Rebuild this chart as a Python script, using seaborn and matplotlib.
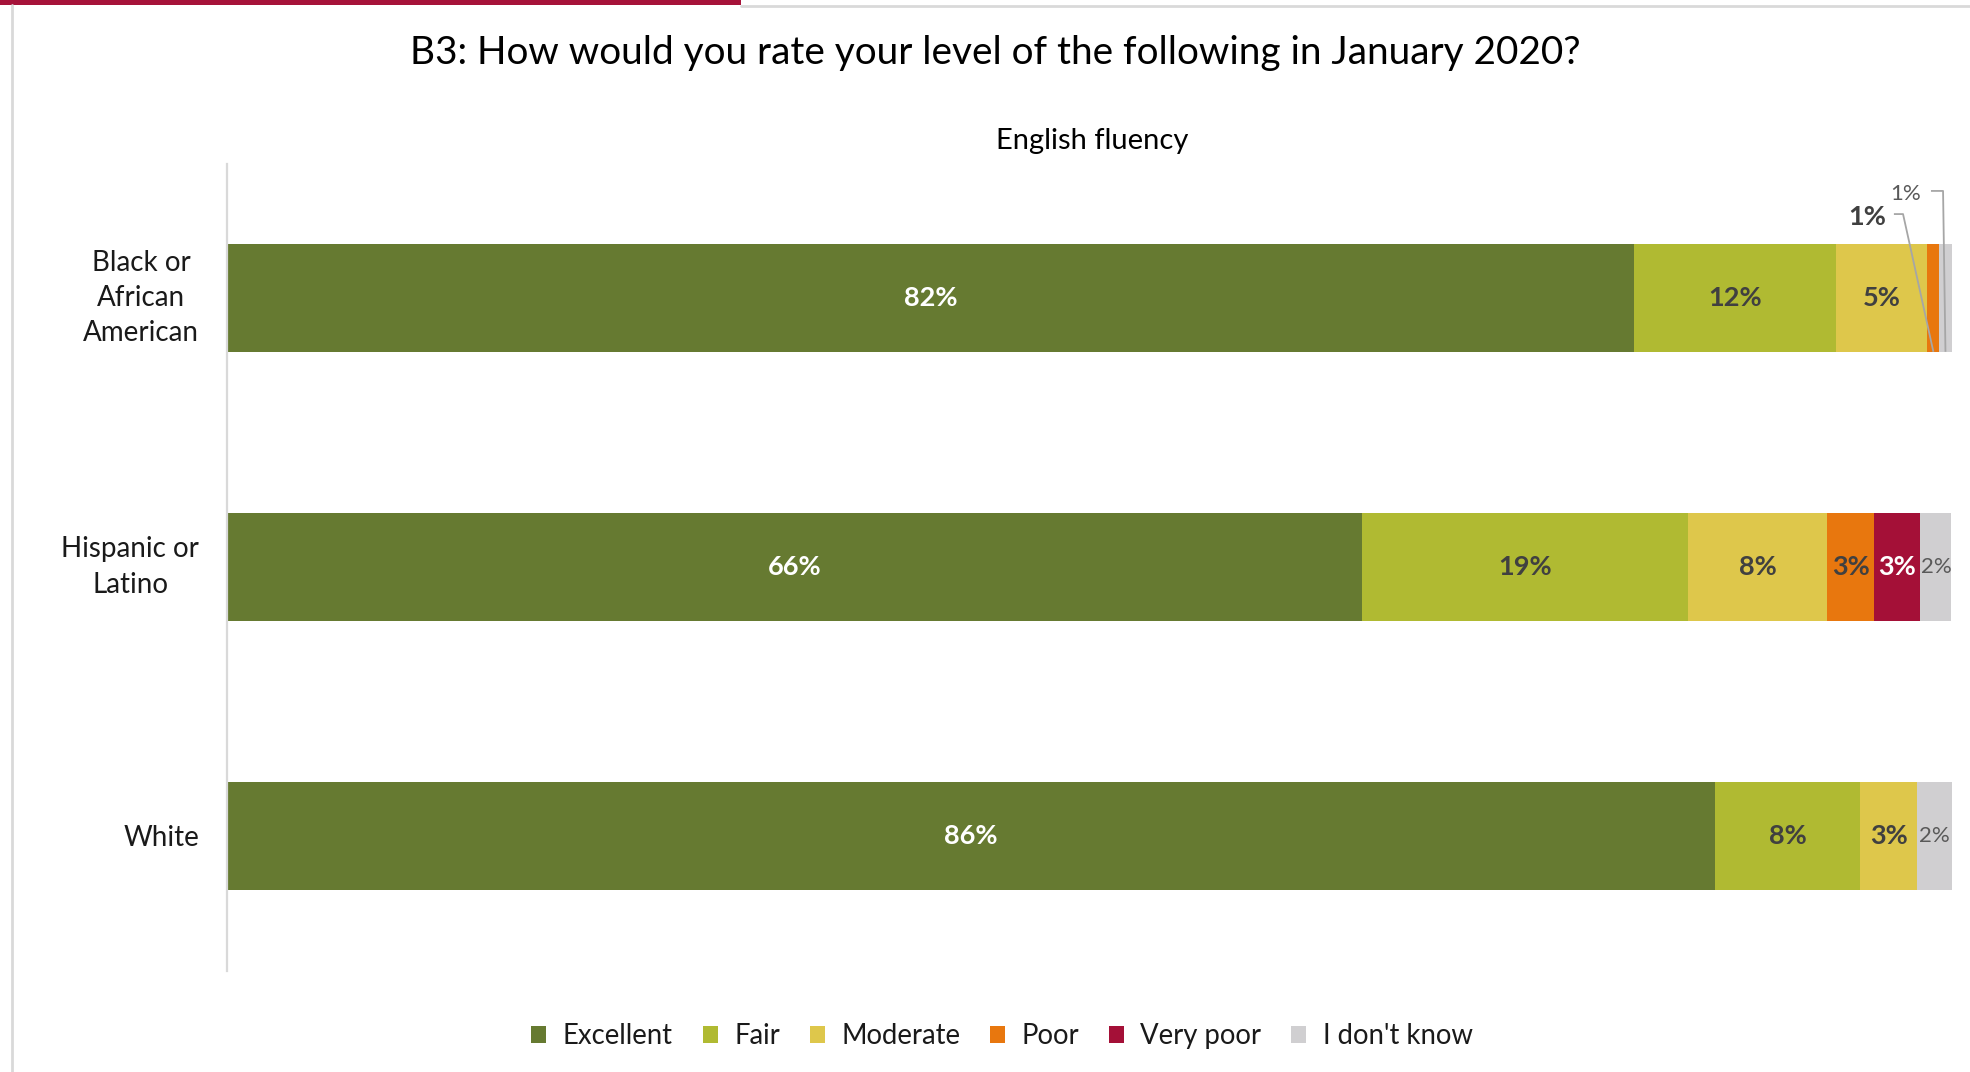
import matplotlib
matplotlib.use("Agg")
import matplotlib.pyplot as plt
import seaborn as sns
import numpy as np
from matplotlib.patches import Patch, Rectangle
from matplotlib.lines import Line2D

# ---- data -------------------------------------------------------------
groups = ["Black or\nAfrican\nAmerican", "Hispanic or\nLatino", "White"]
levels = ["Excellent", "Fair", "Moderate", "Poor", "Very poor", "I don't know"]

excellent = [81.6, 65.8, 86.3]
fair = [11.7, 18.9, 8.4]
moderate = [5.3, 8.1, 3.3]
poor = [0.7, 2.7, 0.0]
very_poor = [0.0, 2.7, 0.0]
dont_know = [0.7, 1.8, 2.0]

colors = ["#667A31", "#B0BA32", "#DEC74B", "#E8770E", "#A41037", "#D0CFD1"]

title = "B3: How would you rate your level of the following in January 2020?"
subtitle = "English fluency"

# ---- style ------------------------------------------------------------
sns.set_theme(style="white")
plt.rcParams["font.family"] = ["Lato", "DejaVu Sans"]

W, H = 1970, 1072
fig = plt.figure(figsize=(W / 100, H / 100), dpi=100)
ax = fig.add_axes([227 / W, 1 - 970.5 / H, 1724.5 / W, 807 / H])

values = np.array([excellent, fair, moderate, poor, very_poor, dont_know])
cum = values.cumsum(axis=0)
starts = cum - values

# stacked bars: draw cumulative totals from the outermost segment inward
for k in reversed(range(len(levels))):
    sns.barplot(x=cum[k], y=groups, order=groups, orient="h", color=colors[k],
                saturation=1, width=0.4, linewidth=0, ax=ax)

ax.set_xlim(0, cum[-1].max())
ax.set_ylim(2.5, -0.5)
ax.set_xlabel("")
ax.set_ylabel("")
ax.set_xticks([])
for s in ["top", "right", "bottom"]:
    ax.spines[s].set_visible(False)
ax.spines["left"].set_color("#D9D9D9")
ax.spines["left"].set_linewidth(1.6)
ax.tick_params(axis="y", length=0, pad=20, labelsize=20, labelcolor="#1A1A1A")
for lab in ax.get_yticklabels():
    lab.set_multialignment("center")
    lab.set_linespacing(1.45)
    if "\n" in lab.get_text():
        lab.set_verticalalignment("center")

# ---- value labels -----------------------------------------------------
label_style = {
    "Excellent": dict(color="white", fontweight="bold", fontsize=19.5),
    "Fair": dict(color="#404040", fontweight="bold", fontsize=19.5),
    "Moderate": dict(color="#404040", fontweight="bold", fontsize=19.5),
    "Poor": dict(color="#404040", fontweight="bold", fontsize=19.5),
    "Very poor": dict(color="white", fontweight="bold", fontsize=19.5),
    "I don't know": dict(color="#595959", fontweight="normal", fontsize=16),
}
# callout offsets (text, leader start, elbow, leader height) from the anchor
callout = {
    "Poor": dict(tx=-3.85, ty=-0.50, x0=-2.29, x1=-1.76, ly=-0.512),
    "I don't know": dict(tx=-2.3, ty=-0.587, x0=-0.84, x1=-0.14, ly=-0.598),
}
half = 0.2
for k, lev in enumerate(levels):
    for i in range(len(groups)):
        v = values[k, i]
        if v <= 0:
            continue
        cx = starts[k, i] + v / 2
        txt = f"{v:.0f}%"
        if v >= 1.5:
            ax.text(cx, i, txt, ha="center", va="center", **label_style[lev])
        else:
            c = callout[lev]
            ay = i + half
            ax.text(cx + c["tx"], ay + c["ty"], txt, ha="center", va="center",
                    **label_style[lev])
            ax.plot([cx + c["x0"], cx + c["x1"], cx], [ay + c["ly"], ay + c["ly"], ay],
                    color="#A6A6A6", lw=1.3, solid_capstyle="butt", clip_on=False)

# ---- titles -----------------------------------------------------------
fig.text(995 / W, 1 - 53 / H, title, ha="center", va="center", fontsize=27.9, color="#000000")
fig.text(1092 / W, 1 - 141 / H, subtitle, ha="center", va="center", fontsize=21, color="#000000")

# ---- legend -----------------------------------------------------------
handles = [Patch(facecolor=c, edgecolor="none") for c in colors]
fig.legend(handles, levels, loc="center", bbox_to_anchor=(1002 / W, 1 - 1036 / H),
           ncol=6, frameon=False, fontsize=19.8, handlelength=0.55, handleheight=0.55,
           handletextpad=0.6, columnspacing=1.08, labelcolor="#1A1A1A")

# ---- frame decoration ---------------------------------------------------
fig.add_artist(Rectangle((0, 1 - 5 / H), 741 / W, 5 / H, transform=fig.transFigure,
                         facecolor="#A6133A", edgecolor="none"))
fig.add_artist(Line2D([741 / W, 1], [1 - 5.5 / H] * 2, transform=fig.transFigure,
                      color="#D9D9D9", lw=2))
fig.add_artist(Line2D([11.5 / W] * 2, [0, 1 - 5 / H], transform=fig.transFigure,
                      color="#D9D9D9", lw=2))

fig.savefig("out.png", dpi=100)
